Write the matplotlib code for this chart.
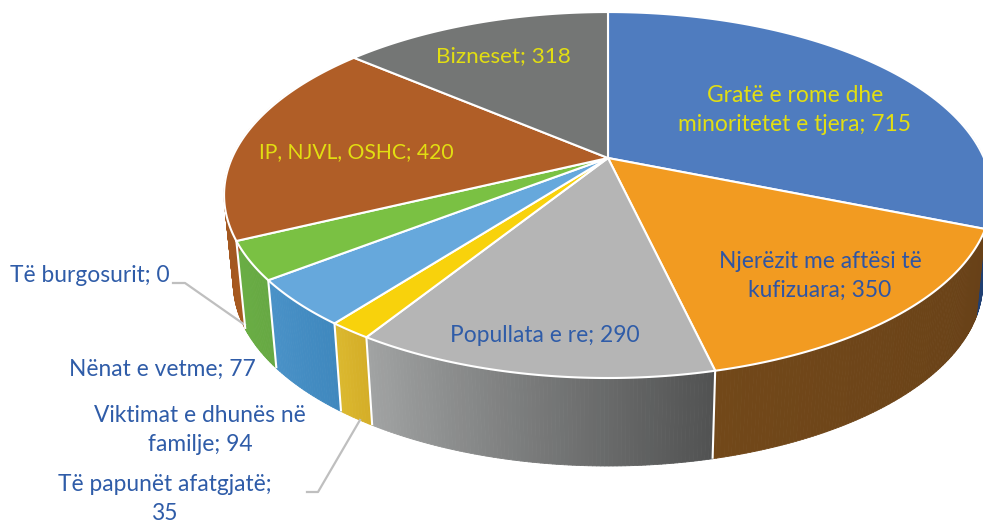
import numpy as np
import matplotlib
matplotlib.use("Agg")
import matplotlib.pyplot as plt
from matplotlib.collections import PolyCollection
from matplotlib.colors import to_rgb

# te dhenat, ne rend orar nga lart
emrat = ["Gratë e rome dhe\nminoritetet e tjera", "Njerëzit me aftësi të\nkufizuara", "Popullata e re",
         "Të papunët afatgjatë;\n", "Viktimat e dhunës në\nfamilje", "Nënat e vetme", "Të burgosurit",
         "IP, NJVL, OSHC", "Bizneset"]
vlerat = [715, 350, 290, 35, 94, 77, 0, 420, 318]
ngjyrat = ["#4f7cbf", "#f29b21", "#b5b5b5", "#f8d20c", "#66a8dc", "#7ac143", "#7ac143", "#b05e27", "#747675"]
anet_fillim = ["#1f3f73", "#684118", "#515252", "#d4ae28", "#3f88be", "#66a843", "#66a843", "#a85a20", "#5a5a5a"]
anet_fund = ["#1f3f73", "#724819", "#a2a4a4", "#dcb92f", "#4a92c8", "#6aae44", "#6aae44", "#9a5420", "#5a5a5a"]

# pozicionet e etiketave
etiketa_x = [795, 820, 545, 165, 200, 162, 90, 356, 503]
etiketa_y = [110, 276, 336, 499, 430, 369, 276, 152, 56]
etiketa_madhesi = [16.4, 16.4, 16.4, 16.4, 16.4, 16.4, 16.4, 15.2, 16.2]
etiketa_ngjyra = ["#e2de12", "#2f55a4", "#2f5ca8", "#2f5ca8", "#2f5ca8", "#2f5ca8", "#2f5ca8", "#e2de12", "#e2de12"]

# gjeometria e perspektives
QX, QY = 608, 158
A, B, K = 376, 175.5, 0.2023
THELLESI, SHK_X, SHK_Y = 88, 0.976, 1.0


def rim_siper(t):
    t = np.radians(t)
    d = 1 + K * np.cos(t)
    return QX + A * np.sin(t) / d, QY - B * np.cos(t) / d


def rim_poshte(t):
    x, y = rim_siper(t)
    return QX + SHK_X * (x - QX), QY + THELLESI + SHK_Y * (y - QY)


def vizato_anen(ax, t0, t1, c0, c1):
    tt = np.linspace(t0, t1, max(int(abs(t1 - t0) * 2), 2) + 1)
    poli, ngj = [], []
    c0, c1 = np.array(to_rgb(c0)), np.array(to_rgb(c1))
    for i in range(len(tt) - 1):
        xa, ya = rim_siper(tt[i])
        xb, yb = rim_siper(tt[i + 1])
        xc, yc = rim_poshte(tt[i + 1])
        xd, yd = rim_poshte(tt[i])
        poli.append([(xa, ya), (xb, yb), (xc, yc), (xd, yd)])
        ngj.append(c0 + (c1 - c0) * i / (len(tt) - 1))
    ax.add_collection(PolyCollection(poli, facecolors=ngj, edgecolors=ngj, linewidths=0.6))


fig = plt.figure(figsize=(9.83, 5.24), dpi=100)
ax = fig.add_axes([0, 0, 1, 1])
ax.set_xlim(0, 983)
ax.set_ylim(524, 0)
ax.axis("off")

total = sum(vlerat)
kufijte = np.cumsum([0] + vlerat) / total * 360

# anet: copat e pasme zgjaten pertej kufirit qe te duket silueta
for i in range(len(vlerat)):
    if vlerat[i] == 0:
        continue
    t0, t1 = kufijte[i], kufijte[i + 1]
    if i == 0:
        t0 = 80
    if i == 7:
        t1 = 295
    if i == 8:
        continue
    vizato_anen(ax, t0, t1, anet_fillim[i], anet_fund[i])

for i in range(1, 7):
    t = kufijte[i]
    xa, ya = rim_siper(t)
    xb, yb = rim_poshte(t)
    if i != 1:
        ax.plot([xa, xb], [ya, yb], color="white", lw=1.5, solid_capstyle="butt")
    else:
        ax.plot([xa, xb], [ya, yb], color="#684118", lw=0.6)

# faqja e siperme
for i in range(len(vlerat)):
    if vlerat[i] == 0:
        continue
    tt = np.linspace(kufijte[i], kufijte[i + 1], 90)
    xs, ys = rim_siper(tt)
    pts = np.column_stack([np.r_[QX, xs], np.r_[QY, ys]])
    ax.fill(pts[:, 0], pts[:, 1], facecolor=ngjyrat[i], edgecolor="white", lw=1.5, joinstyle="round")

# vijat udhezuese
ax.plot([173, 185, 245], [283, 283, 325], color="#bfbfbf", lw=1.6, zorder=1.5)
ax.plot([307, 318, 360], [492, 492, 420], color="#bfbfbf", lw=1.6)

for i in range(len(vlerat)):
    if emrat[i].endswith("\n"):
        teksti = emrat[i] + str(vlerat[i])
    else:
        teksti = emrat[i] + "; " + str(vlerat[i])
    ax.text(etiketa_x[i], etiketa_y[i], teksti, ha="center", va="center", fontsize=etiketa_madhesi[i],
            family="Lato", color=etiketa_ngjyra[i], linespacing=1.42)

fig.savefig("out.png", dpi=100)
